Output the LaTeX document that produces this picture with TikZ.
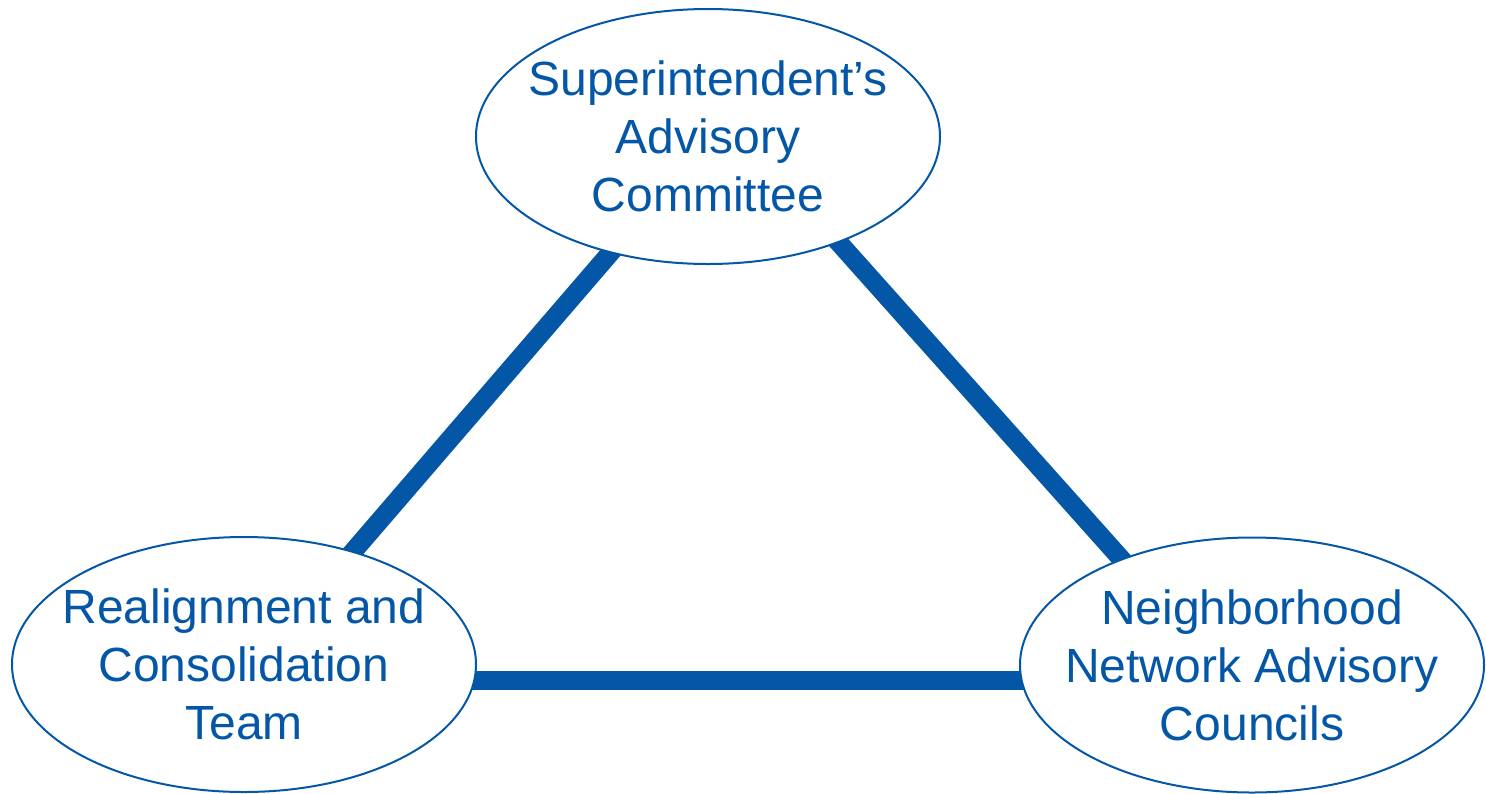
\documentclass[tikz,border=0pt]{standalone}
\usepackage{fontspec}
\setmainfont{Liberation Sans}
\usetikzlibrary{shapes.geometric,backgrounds}
\definecolor{navy}{RGB}{4,87,166}
\begin{document}
\begin{tikzpicture}[x=1pt,y=-1pt,
  bubble/.style={ellipse, draw=navy, line width=2pt, fill=white,
    minimum width=464pt, minimum height=255pt, inner xsep=-40pt, inner ysep=0pt,
    outer sep=0pt, text=navy, align=center, font=\fontsize{48}{58}\selectfont},
  link/.style={draw=navy, line width=19pt, shorten <=-8pt, shorten >=-8pt}]
\useasboundingbox (0,0) rectangle (1486,793);
\node[bubble] (sac) at (708,136.5) {Superintendent’s\\Advisory\\Committee};
\node[bubble] (rct) at (244,664.5) {Realignment and\\Consolidation\\Team};
\node[bubble] (nnac) at (1252,665) {Neighborhood\\Network Advisory\\Councils};
\path (rct.center) ++(0,16) coordinate (hl);
\begin{scope}[on background layer]
\draw[link] (sac.230.4) -- (rct.46.7);
\draw[link] (sac.321.4) -- (nnac.141);
\draw[link] (hl -| rct.east) -- (hl -| nnac.west);
\end{scope}
\end{tikzpicture}
\end{document}
